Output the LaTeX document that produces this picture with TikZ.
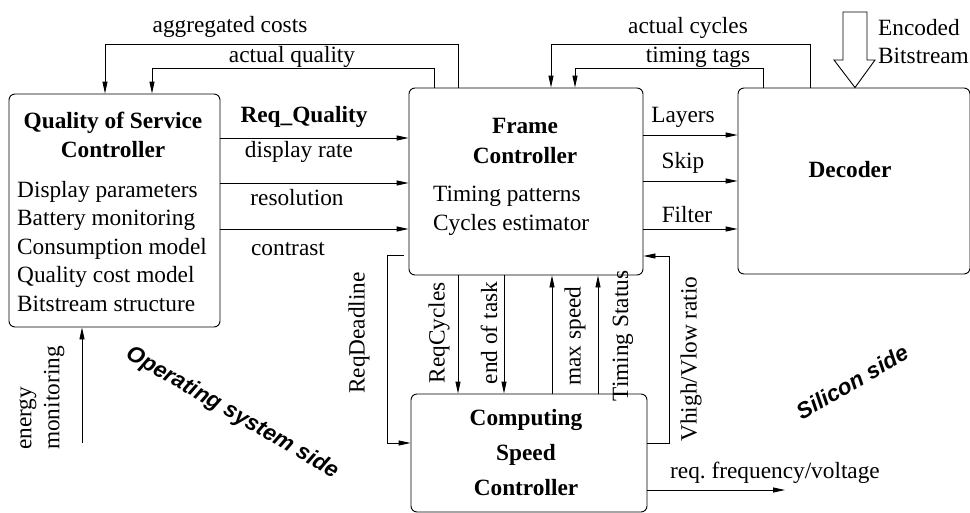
\documentclass[tikz,border=0pt]{standalone}
\usepackage{fontspec}
\setmainfont{Liberation Serif}
\newfontfamily\hvfont{Liberation Sans}
\usetikzlibrary{arrows.meta}
\newcommand{\mysz}{\fontsize{23.3}{28}\selectfont}
\begin{document}
\begin{tikzpicture}[x=1pt,y=-1pt,
  box/.style={draw, rounded corners=6pt, line width=0.9pt, inner sep=0pt},
  ln/.style={draw, line width=0.9pt},
  arr/.style={draw, line width=0.9pt, -{Triangle[length=12pt,width=5pt]}},
  lbl/.style={inner sep=0pt, anchor=base},
  lbw/.style={inner sep=0pt, anchor=base west},
  bld/.style={font=\mysz\bfseries},
  vlbl/.style={inner sep=0pt, rotate=90},
  side/.style={inner sep=0pt, font=\hvfont\fontsize{22.5}{26}\selectfont\bfseries\itshape},
  every node/.append style={font=\mysz}
]
\useasboundingbox (0,0) rectangle (970,512);
% boxes
\node[box, minimum width=211pt, minimum height=233pt] (QoS) at (114.5,210.5) {};
\node[box, minimum width=234pt, minimum height=187pt] (FC) at (526,181.5) {};
\node[box, minimum width=232pt, minimum height=186pt] (Dec) at (854,181) {};
\node[box, minimum width=236pt, minimum height=118pt] (CSC) at (529,453) {};
% box texts
\node[lbl, bld] (q1) at (113,128) {Quality of Service};
\node[lbl, bld] (q2) at (113,157) {Controller};
\node[lbw] (q3) at (17,197) {Display parameters};
\node[lbw] (q4) at (17,225.5) {Battery monitoring};
\node[lbw] (q5) at (17,254) {Consumption model};
\node[lbw] (q6) at (17,282.5) {Quality cost model};
\node[lbw] (q7) at (17,311) {Bitstream structure};
\node[lbl, bld] (f1) at (525,133) {Frame};
\node[lbl, bld] (f2) at (525,163) {Controller};
\node[lbw] (f3) at (433,201) {Timing patterns};
\node[lbw] (f4) at (433,230) {Cycles estimator};
\node[lbl, bld] (d1) at (850,177) {Decoder};
\node[lbl, bld] (c1) at (526,425) {Computing};
\node[lbl, bld] (c2) at (526,460) {Speed};
\node[lbl, bld] (c3) at (526,495) {Controller};
% feedback to QoS
\draw[arr] (FC.north -| 458,0) -- (458,44) -- (105,44) -- (QoS.north -| 105,0);
\draw[arr] (FC.north -| 434,0) -- (434,68) -- (152,68) -- (QoS.north -| 152,0);
\node[lbl] (tagg) at (230,32) {aggregated costs};
\node[lbl] (taq) at (292,62) {actual quality};
% QoS -> FC
\node[lbl, bld] (treq) at (304,122) {Req\_Quality};
\draw[arr] (QoS.east |- 0,138) -- (FC.west |- 0,138);
\draw[arr] (QoS.east |- 0,183) -- (FC.west |- 0,183);
\draw[arr] (QoS.east |- 0,229) -- (FC.west |- 0,229);
\node[lbl] (tdr) at (299,157) {display rate};
\node[lbl] (tres) at (297,205) {resolution};
\node[lbl] (tcon) at (288,255) {contrast};
% FC -> Decoder
\draw[arr] (FC.east |- 0,135) -- (Dec.west |- 0,135);
\draw[arr] (FC.east |- 0,181) -- (Dec.west |- 0,181);
\draw[arr] (FC.east |- 0,229) -- (Dec.west |- 0,229);
\node[lbl] (tlay) at (683,122) {Layers};
\node[lbl] (tskip) at (683,168) {Skip};
\node[lbl] (tfil) at (687,222) {Filter};
% Decoder -> FC feedback
\draw[arr] (Dec.north -| 810,0) -- (810,44) -- (551,44) -- (FC.north -| 551,0);
\draw[arr] (Dec.north -| 763,0) -- (763,68) -- (575,68) -- (FC.north -| 575,0);
\node[lbl] (tac) at (688,33) {actual cycles};
\node[lbl] (ttt) at (698,62) {timing tags};
% Encoded bitstream block arrow
\coordinate (ebtip) at (Dec.north -| 855,0);
\draw[line width=0.9pt, fill=white] (843,12) -- (867,12) -- (867,60) -- (875,60) -- (ebtip) -- (834,60) -- (843,60) -- cycle;
\node[lbw] (te1) at (878,35) {Encoded};
\node[lbw] (te2) at (878,63) {Bitstream};
% FC <-> CSC
\draw[arr, shorten <=5pt] (FC.west |- 0,255) -- (387,255) -- (387,443) -- (CSC.west |- 0,443);
\draw[arr] (FC.south -| 458,0) -- (CSC.north -| 458,0);
\draw[arr] (FC.south -| 504,0) -- (CSC.north -| 504,0);
\draw[arr] (CSC.north -| 552,0) -- (FC.south -| 552,0);
\draw[arr] (CSC.north -| 598,0) -- (FC.south -| 598,0);
\draw[arr] (CSC.east |- 0,443) -- (669,443) -- (669,256) -- (FC.east |- 0,256);
\node[vlbl] (trd) at (359,333) {ReqDeadline};
\node[vlbl] (trc) at (439,333) {ReqCycles};
\node[vlbl] (teot) at (489,333) {end of task};
\node[vlbl] (tms) at (575,336) {max speed};
\node[vlbl] (tts) at (623,336) {Timing Status};
\node[vlbl] (tvr) at (691,359) {Vhigh/Vlow ratio};
% CSC output
\coordinate (rfv) at (785,490);
\draw[arr] (CSC.east |- 0,490) -- (rfv);
\node[lbl] (trfv) at (775,478) {req.\ frequency/voltage};
% energy monitoring
\coordinate (em) at (82,443);
\draw[arr] (em) -- (QoS.south -| 82,0);
\node[vlbl, align=left] (tem) at (42,398) {energy\\monitoring};
% side labels
\node[side, rotate=-30] (tos) at (232,413) {Operating system side};
\node[side, rotate=30] (tsi) at (852,382) {Silicon side};
\end{tikzpicture}
\end{document}
